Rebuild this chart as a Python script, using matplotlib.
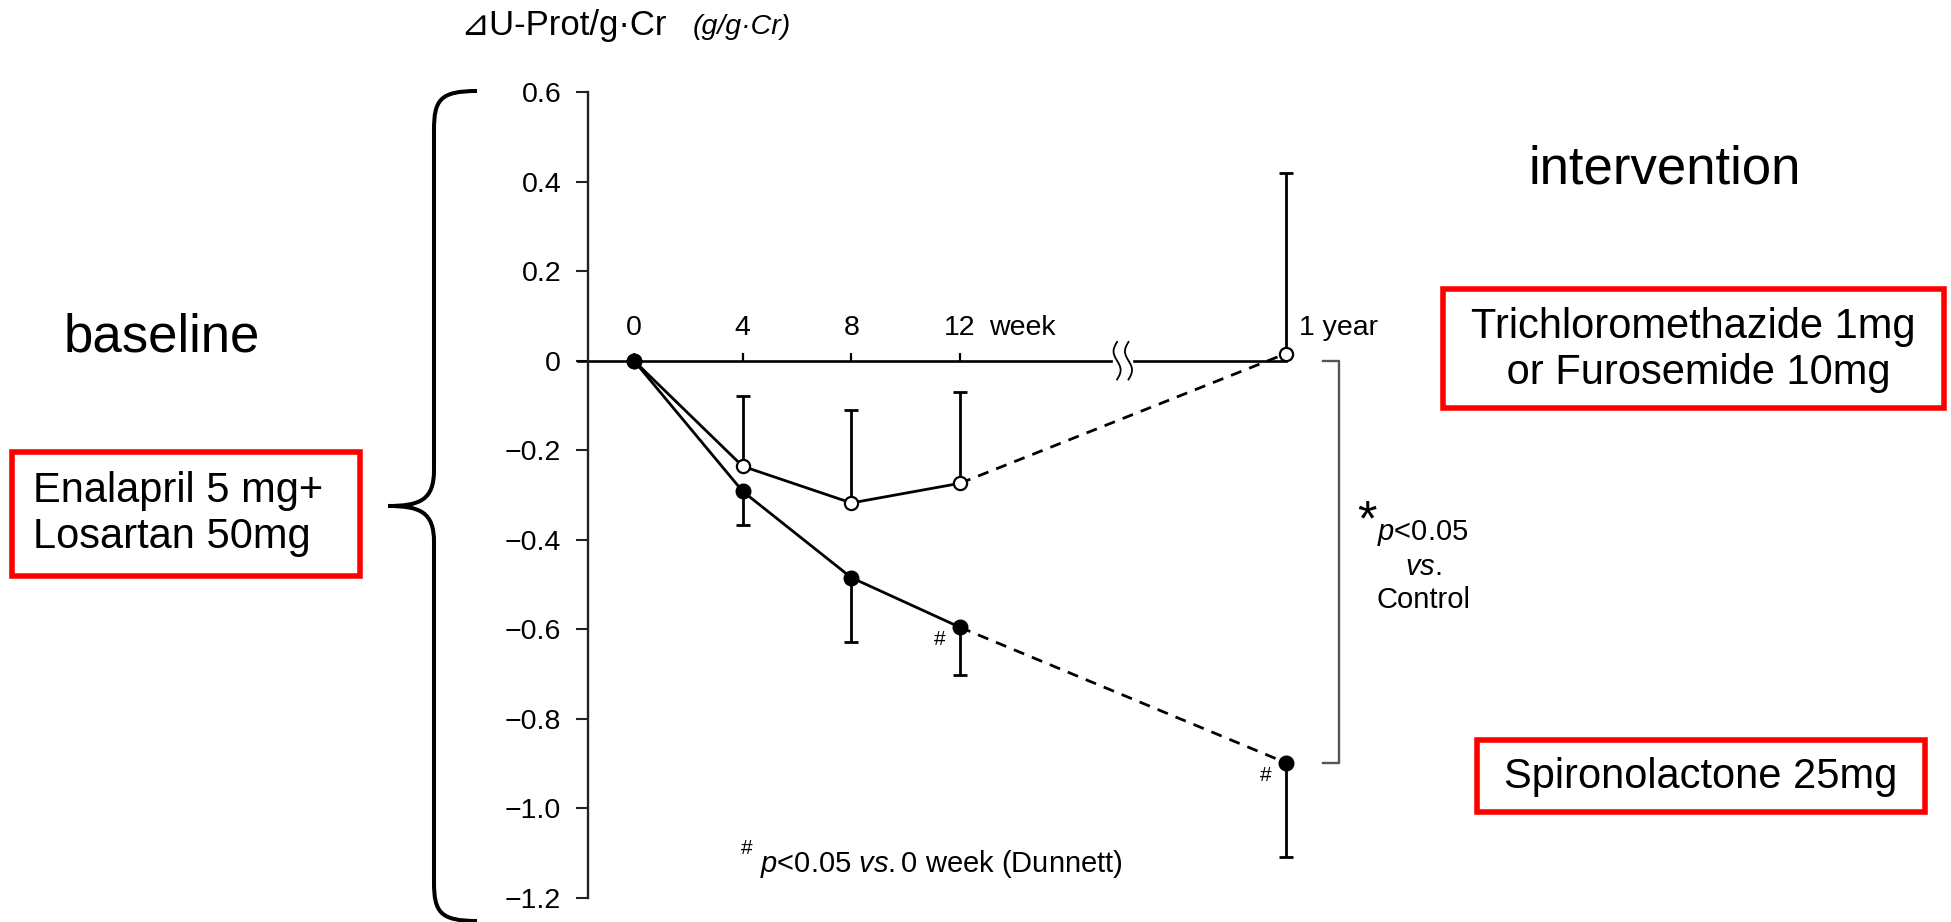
import numpy as np
import matplotlib
matplotlib.use('Agg')
import matplotlib.pyplot as plt
from matplotlib.path import Path
from matplotlib.patches import PathPatch, Rectangle

plt.rcParams['font.family'] = ['Liberation Sans', 'DejaVu Sans']
plt.rcParams['mathtext.fontset'] = 'custom'
plt.rcParams['mathtext.rm'] = 'Liberation Sans'
plt.rcParams['mathtext.it'] = 'Liberation Sans:italic'

# values
weeks = [0, 4, 8, 12]
year_pos = 24            # x position of the "1 year" point, after the axis break
week_labels = ['0', '4', '8', '12']
control_mean = [0.0, -0.236, -0.318, -0.274, 0.016]   # open circles
control_sd = [0.0, 0.156, 0.208, 0.205, 0.404]        # drawn upward
spiro_mean = [0.0, -0.292, -0.485, -0.596, -0.899]    # filled circles
spiro_sd = [0.0, 0.076, 0.144, 0.106, 0.211]          # drawn downward
ytick_vals = [0.6, 0.4, 0.2, 0, -0.2, -0.4, -0.6, -0.8, -1.0, -1.2]
ytick_labels = ['0.6', '0.4', '0.2', '0', '\u22120.2', '\u22120.4', '\u22120.6',
                '\u22120.8', '\u22121.0', '\u22121.2']
spiro_hash = [3, 4]      # points marked with '#'

W, H = 1951, 922
fig = plt.figure(figsize=(W / 100, H / 100), dpi=100)


def fx(x):
    return x / W


def fy(y):
    return 1 - y / H


# axes placement (pixels of the reference)
px_wk = 27.17
xmin = (588.3 - 634) / px_wk
xmax = 26.5
ax = fig.add_axes([fx(588.3), fy(897.5), (xmax - xmin) * px_wk / W, (897.5 - 92.3) / H])
ax.set_xlim(xmin, xmax)
ax.set_ylim(-1.2, 0.6)
ax.patch.set_visible(False)
for s in ['right', 'bottom', 'top']:
    ax.spines[s].set_visible(False)
ax.spines['left'].set_color('#222222')
ax.spines['left'].set_linewidth(1.7)
ax.spines['top'].set_position(('data', 0))
ax.xaxis.set_ticks_position('top')
ax.set_xticks(weeks)
ax.set_xticklabels(week_labels)
ax.tick_params(axis='x', direction='out', length=6, width=1.6, pad=8, labelsize=20.5)
ax.set_yticks(ytick_vals)
ax.set_yticklabels(ytick_labels)
ax.tick_params(axis='y', direction='out', length=8.5, width=1.5, pad=11,
               labelsize=20.5, color='#222222')

# x axis line with break
ax.plot([xmin - 0.37, 17.57], [0, 0], color='k', lw=1.9, clip_on=False)
ax.plot([18.42, year_pos], [0, 0], color='k', lw=1.9, clip_on=False)
t = np.linspace(-1, 1, 60)
for xc in (17.78, 18.2):
    ax.plot(xc - 0.13 * np.sin(np.pi * t), 0.042 * t, color='k', lw=1.3, clip_on=False)
ax.annotate('week', (13.05, 0), xytext=(0, 14), textcoords='offset points',
            fontsize=20.5, va='bottom', ha='left')
ax.annotate('1 year', (year_pos, 0), xytext=(9, 14), textcoords='offset points',
            fontsize=20.5, va='bottom', ha='left')

x_all = weeks + [year_pos]
n = len(x_all)

# error bars (one-sided)
ax.errorbar(x_all[1:], control_mean[1:], yerr=[np.zeros(n - 1), control_sd[1:]],
            fmt='none', ecolor='k', elinewidth=2, capsize=5, capthick=2,
            clip_on=False, zorder=2)
ax.errorbar(x_all[1:], spiro_mean[1:], yerr=[spiro_sd[1:], np.zeros(n - 1)],
            fmt='none', ecolor='k', elinewidth=2, capsize=5, capthick=2,
            clip_on=False, zorder=2)

# lines
ax.plot(weeks, control_mean[:4], '-', color='k', lw=2, zorder=3)
ax.plot(weeks, spiro_mean[:4], '-', color='k', lw=2, zorder=3)
ax.plot([weeks[-1], year_pos], [control_mean[3], control_mean[4]], color='k',
        lw=2, dashes=(4, 3), zorder=3)
ax.plot([weeks[-1], year_pos], [spiro_mean[3], spiro_mean[4]], color='k',
        lw=2, dashes=(4, 3), zorder=3)

# markers
ax.plot(x_all, control_mean, 'o', mfc='white', mec='k', mew=1.6, ms=9.5,
        zorder=5, clip_on=False)
ax.plot(x_all, spiro_mean, 'o', color='k', ms=10.5, zorder=6, clip_on=False)

for i in spiro_hash:
    ax.annotate('#', (x_all[i], spiro_mean[i]), xytext=(-15, -9),
                textcoords='offset points', fontsize=15, ha='center', va='center')

# significance bracket between the 1-year points
bx0, bx1 = 25.37, 25.96
ax.plot([bx0, bx1, bx1, bx0], [0, 0, spiro_mean[-1], spiro_mean[-1]],
        color='#555555', lw=1.7, clip_on=False)

fig.text(fx(1367), fy(522), '*', fontsize=36, ha='center', va='center')
fig.text(fx(1423), fy(566), '$p$<0.05\n$vs.$\nControl', fontsize=21,
         ha='center', va='center', linespacing=1.25)

# footnote
fig.text(fx(747), fy(848), '#', fontsize=15, ha='center', va='center')
fig.text(fx(760), fy(864), '$p$<0.05 $vs.$0 week (Dunnett)', fontsize=21,
         ha='left', va='center')

# y label at top
fig.text(fx(460), fy(26), '\u22bfU-Prot/g\u00b7Cr', fontsize=25, ha='left', va='center')
fig.text(fx(693), fy(27), '(g/g\u00b7Cr)', fontsize=20.5, style='italic',
         ha='left', va='center')

# left side: baseline
fig.text(fx(162), fy(338), 'baseline', fontsize=38, ha='center', va='center')
fig.patches.append(Rectangle((fx(12), fy(576)), fx(360) - fx(12), fy(452) - fy(576),
                             transform=fig.transFigure, fill=False,
                             edgecolor='#ff0000', lw=4))
fig.text(fx(33), fy(514), 'Enalapril 5 mg+\nLosartan 50mg', fontsize=30,
         ha='left', va='center', linespacing=1.2)

# curly brace
verts = [(477, 91), (440, 91), (434, 100), (434, 130),
         (434, 470),
         (434, 500), (420, 506), (388, 506),
         (420, 506), (434, 512), (434, 542),
         (434, 882),
         (434, 912), (440, 921), (477, 921)]
codes = [Path.MOVETO, Path.CURVE4, Path.CURVE4, Path.CURVE4,
         Path.LINETO,
         Path.CURVE4, Path.CURVE4, Path.CURVE4,
         Path.CURVE4, Path.CURVE4, Path.CURVE4,
         Path.LINETO,
         Path.CURVE4, Path.CURVE4, Path.CURVE4]
brace = Path([(fx(x), fy(y)) for x, y in verts], codes)
fig.patches.append(PathPatch(brace, transform=fig.transFigure, fill=False,
                             edgecolor='k', lw=2.9))

# right side: intervention
fig.text(fx(1665), fy(169), 'intervention', fontsize=38, ha='center', va='center')
fig.patches.append(Rectangle((fx(1443), fy(408)), fx(1944) - fx(1443), fy(289) - fy(408),
                             transform=fig.transFigure, fill=False,
                             edgecolor='#ff0000', lw=4))
fig.text(fx(1693), fy(350), 'Trichloromethazide 1mg\n or Furosemide 10mg', fontsize=30,
         ha='center', va='center', linespacing=1.2)
fig.patches.append(Rectangle((fx(1477), fy(812)), fx(1925) - fx(1477), fy(740) - fy(812),
                             transform=fig.transFigure, fill=False,
                             edgecolor='#ff0000', lw=4))
fig.text(fx(1701), fy(777), 'Spironolactone 25mg', fontsize=30, ha='center', va='center')

fig.savefig('out.png', dpi=100)
